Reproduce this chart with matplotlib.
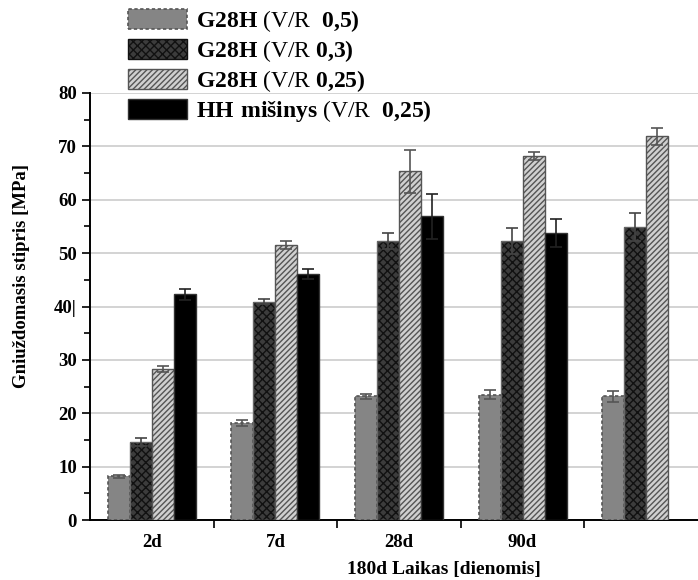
import numpy as np
import matplotlib
matplotlib.use('Agg')
import matplotlib.pyplot as plt
from matplotlib.patches import Patch

plt.rcParams['font.family'] = 'Liberation Serif'
plt.rcParams['mathtext.fontset'] = 'custom'
plt.rcParams['mathtext.rm'] = 'Liberation Serif'
plt.rcParams['mathtext.bf'] = 'Liberation Serif:bold'
plt.rcParams['hatch.linewidth'] = 1.0

# Compressive strength by curing age
ages = ['2d', '7d', '28d', '90d', '180d']
g28h_05 = [8.2, 18.2, 23.2, 23.5, 23.2]
g28h_05_err = [0.3, 0.5, 0.5, 0.8, 1.0]
g28h_03 = [14.6, 40.9, 52.2, 52.3, 54.9]
g28h_03_err = [0.7, 0.5, 1.5, 2.4, 2.6]
g28h_025 = [28.3, 51.5, 65.3, 68.2, 71.9]
g28h_025_err = [0.6, 0.8, 4.0, 0.8, 1.6]
hh_025 = [42.3, 46.1, 56.9, 53.7]
hh_025_err = [1.0, 1.0, 4.2, 2.6]

labels = [r'$\mathbf{G28H}$ (V/R  $\mathbf{0{,}5)}$',
          r'$\mathbf{G28H}$ (V/R $\mathbf{0{,}3)}$',
          r'$\mathbf{G28H}$ (V/R $\mathbf{0{,}25)}$',
          r'$\mathbf{HH\ mišinys}$ (V/R  $\mathbf{0{,}25)}$']

fig = plt.figure(figsize=(6.98, 5.8), dpi=100)
ax = fig.add_axes([0.129, 0.1034, 0.871, 0.7363])

x = np.arange(len(ages))
w = 0.178
ekw = dict(elinewidth=1.2, capsize=4, capthick=1.2)

# G28H 0,5 - grey with dashed outline
ax.bar(x - 1.5 * w, g28h_05, w, color='#858585', edgecolor='#555555',
       linestyle=(0, (2, 1.5)), linewidth=1.2, zorder=3)
ax.errorbar(x - 1.5 * w, g28h_05, yerr=g28h_05_err, fmt='none',
            ecolor='#555555', zorder=4, **ekw)

# G28H 0,3 - dark crosshatch
ax.bar(x - 0.5 * w, g28h_03, w, color='#3c3c3c', edgecolor='#111111',
       hatch='xxxx', linewidth=0, zorder=3)
ax.bar(x - 0.5 * w, g28h_03, w, color='none', edgecolor='#666666',
       linewidth=1.0, zorder=3)
ax.errorbar(x - 0.5 * w, g28h_03, yerr=g28h_03_err, fmt='none',
            ecolor='#444444', zorder=4, **ekw)

# G28H 0,25 - light diagonal lines
ax.bar(x + 0.5 * w, g28h_025, w, color='#d0d0d0', edgecolor='#555555',
       hatch='//////', linewidth=0, zorder=3)
ax.bar(x + 0.5 * w, g28h_025, w, color='none', edgecolor='#555555',
       linewidth=1.0, zorder=3)
ax.errorbar(x + 0.5 * w, g28h_025, yerr=g28h_025_err, fmt='none',
            ecolor='#555555', zorder=4, **ekw)

# HH mixture - solid black (no 180d result)
xh = x[:len(hh_025)] + 1.5 * w
ax.bar(xh, hh_025, w, color='black', edgecolor='#333333', linewidth=1.0, zorder=3)
ax.errorbar(xh, hh_025, yerr=hh_025_err, fmt='none', ecolor='#222222',
            zorder=4, **ekw)

ax.set_xlim(-0.5, 4.42)
ax.set_ylim(0, 80)
ax.set_yticks(np.arange(0, 81, 10))
ax.set_yticklabels(['0', '10', '20', '30', '40|', '50', '60', '70', '80'])
ax.set_yticks(np.arange(5, 80, 10), minor=True)
ax.set_xticks(x[:4])
ax.set_xticklabels(ages[:4])
ax.set_xticks(x[:4] + 0.5, minor=True)
ax.tick_params(axis='x', which='major', length=0, pad=10)
ax.tick_params(axis='x', which='minor', length=6, width=1.2)
ax.tick_params(axis='y', which='major', length=6, width=1.2)
ax.tick_params(axis='y', which='minor', length=4, width=1.2)
for lab in ax.get_xticklabels() + ax.get_yticklabels():
    lab.set_fontweight('bold')
    lab.set_fontsize(13.5)

ax.yaxis.grid(True, color='#cccccc', linewidth=1.2, zorder=0)
ax.set_axisbelow(True)
for s in ['top', 'right']:
    ax.spines[s].set_visible(False)
for s in ['left', 'bottom']:
    ax.spines[s].set_linewidth(1.4)

ax.set_ylabel('Gniuždomasis stipris [MPa]', fontsize=13.5, fontweight='bold',
              va='center')
ax.yaxis.set_label_coords(-0.112, 0.571)
ax.set_xlabel('180d Laikas [dienomis]', fontsize=14, fontweight='bold',
              va='center')
ax.xaxis.set_label_coords(0.582, -0.117)

handles = [
    Patch(facecolor='#858585', edgecolor='#555555', linestyle=(0, (2, 1.5)), linewidth=1.2),
    Patch(facecolor='#3c3c3c', edgecolor='#111111', hatch='xxxx', linewidth=1.0),
    Patch(facecolor='#d0d0d0', edgecolor='#555555', hatch='//////', linewidth=1.0),
    Patch(facecolor='black', edgecolor='#333333', linewidth=1.0),
]
fig.legend(handles, labels, loc='upper left', bbox_to_anchor=(128 / 698, 1 - 8 / 580),
           frameon=False, fontsize=17, handlelength=2.5, handleheight=0.95,
           labelspacing=0.17, handletextpad=0.4, borderpad=0, borderaxespad=0)

fig.savefig('out.png', dpi=100)
